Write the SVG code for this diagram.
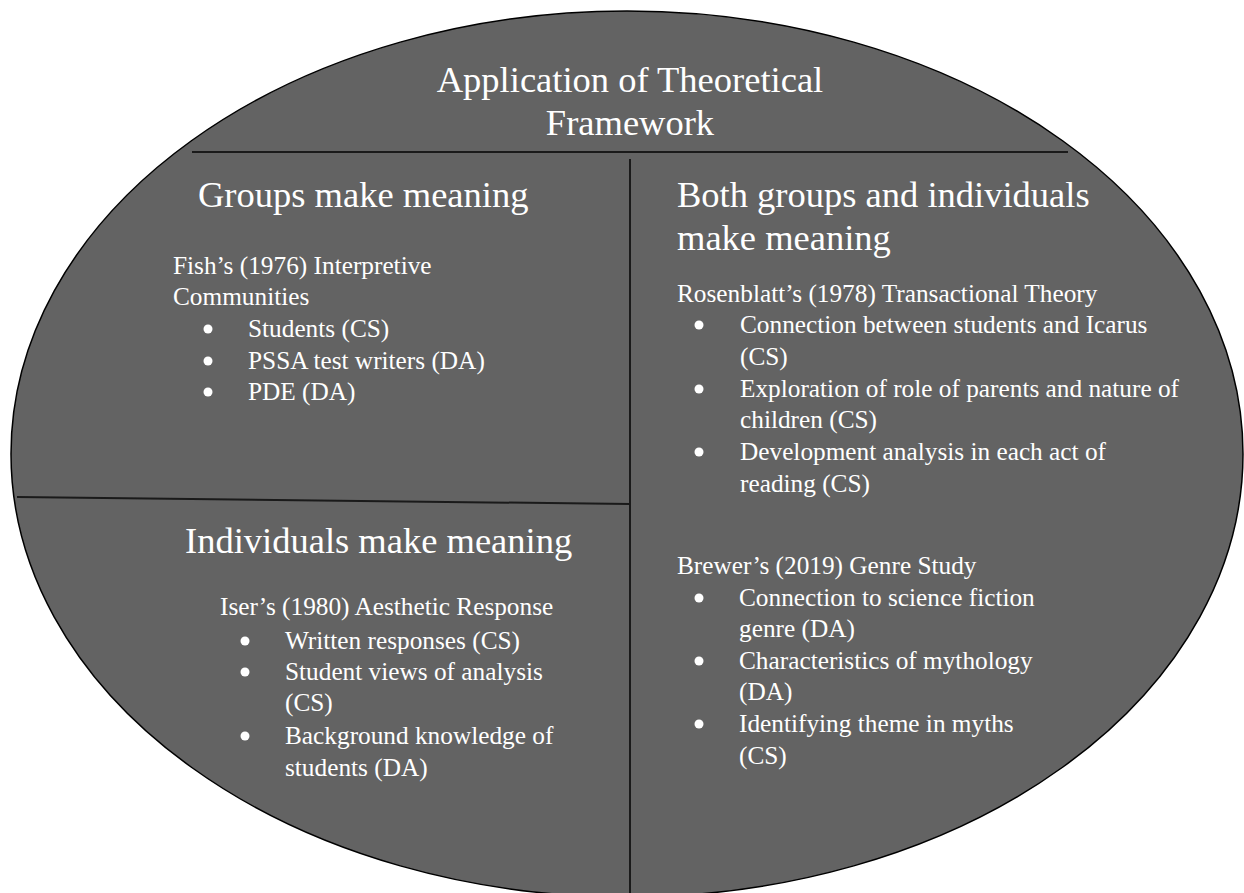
<svg xmlns="http://www.w3.org/2000/svg" width="1244" height="893" viewBox="0 0 1244 893">
<style>
text{font-family:"Liberation Serif","Times New Roman",serif;fill:#ffffff}
.h{font-size:36.5px}
.b{font-size:25.3px}
.ln{stroke:#1a1a1a;stroke-width:2;fill:none}
.dot{fill:#ffffff}
</style>
<rect width="1244" height="893" fill="#ffffff"/>
<g id="ellipse">
<ellipse cx="627" cy="454" rx="616" ry="443" fill="#636363" stroke="#000000" stroke-width="1.5"/>
</g>
<g id="connectors">
<line class="ln" x1="192" y1="152" x2="1068" y2="152"/>
<line class="ln" x1="630" y1="159" x2="630" y2="893"/>
<line class="ln" x1="17" y1="497" x2="630" y2="504"/>
</g>
<g id="title">
<text class="h" x="630" y="92" text-anchor="middle">Application of Theoretical</text>
<text class="h" x="630" y="135" text-anchor="middle">Framework</text>
</g>
<g id="groups">
<text class="h" x="198" y="207">Groups make meaning</text>
<text class="b" x="173" y="274">Fish’s (1976) Interpretive</text>
<text class="b" x="173" y="305">Communities</text>
<circle class="dot" cx="208" cy="329" r="4.5"/>
<text class="b" x="248" y="337">Students (CS)</text>
<circle class="dot" cx="208" cy="361" r="4.5"/>
<text class="b" x="248" y="369">PSSA test writers (DA)</text>
<circle class="dot" cx="208" cy="392" r="4.5"/>
<text class="b" x="248" y="400">PDE (DA)</text>
</g>
<g id="individuals">
<text class="h" x="185" y="553">Individuals make meaning</text>
<text class="b" x="220" y="615">Iser’s (1980) Aesthetic Response</text>
<circle class="dot" cx="245" cy="641" r="4.5"/>
<text class="b" x="285" y="649">Written responses (CS)</text>
<circle class="dot" cx="245" cy="672" r="4.5"/>
<text class="b" x="285" y="680">Student views of analysis</text>
<text class="b" x="285" y="711">(CS)</text>
<circle class="dot" cx="245" cy="736" r="4.5"/>
<text class="b" x="285" y="744">Background knowledge of</text>
<text class="b" x="285" y="776">students (DA)</text>
</g>
<g id="both">
<text class="h" x="677" y="207">Both groups and individuals</text>
<text class="h" x="677" y="250">make meaning</text>
<text class="b" x="677" y="302">Rosenblatt’s (1978) Transactional Theory</text>
<circle class="dot" cx="699" cy="325" r="4.5"/>
<text class="b" x="740" y="333">Connection between students and Icarus</text>
<text class="b" x="740" y="365">(CS)</text>
<circle class="dot" cx="699" cy="389" r="4.5"/>
<text class="b" x="740" y="397">Exploration of role of parents and nature of</text>
<text class="b" x="740" y="428">children (CS)</text>
<circle class="dot" cx="699" cy="452" r="4.5"/>
<text class="b" x="740" y="460">Development analysis in each act of</text>
<text class="b" x="740" y="492">reading (CS)</text>
<text class="b" x="677" y="574">Brewer’s (2019) Genre Study</text>
<circle class="dot" cx="699" cy="598" r="4.5"/>
<text class="b" x="739" y="606">Connection to science fiction</text>
<text class="b" x="739" y="637">genre (DA)</text>
<circle class="dot" cx="699" cy="661" r="4.5"/>
<text class="b" x="739" y="669">Characteristics of mythology</text>
<text class="b" x="739" y="700">(DA)</text>
<circle class="dot" cx="699" cy="724" r="4.5"/>
<text class="b" x="739" y="732">Identifying theme in myths</text>
<text class="b" x="739" y="764">(CS)</text>
</g>
</svg>
